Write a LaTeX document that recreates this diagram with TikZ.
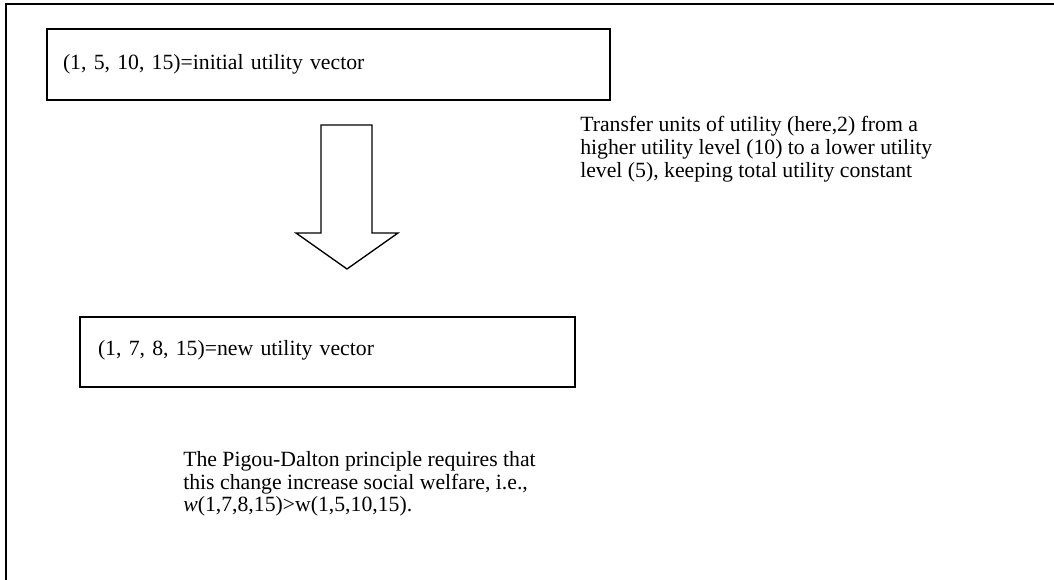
\documentclass[tikz,border=0pt]{standalone}
\usepackage{fontspec}
\setmainfont{Liberation Serif}
\begin{document}
\begin{tikzpicture}[x=0.75pt,y=-0.75pt,
  every node/.style={font=\fontsize{16.3pt}{17.1pt}\selectfont},
  box/.style={draw, line width=1.5pt, align=left, inner ysep=0pt},
  plain/.style={inner sep=0pt, align=left, anchor=north west},
  blockarrow/.style={draw, line width=1pt, line join=miter}]
\useasboundingbox (0,0) rectangle (1054,580);
% outer frame (only top and left edges visible)
\draw[line width=1.5pt] (1054,4) -- (6,4) -- (6,580);
% boxes
\node[box, minimum width=422.25pt, minimum height=53.25pt, text width=398.25pt, inner xsep=12pt] (init) at (328.5,64.5) {\raisebox{1pt}{(1, 5, 10, 15)=initial utility vector}};
\node[box, minimum width=371.25pt, minimum height=52.5pt, text width=344.25pt, inner xsep=13.5pt] (new) at (327.5,352) {\raisebox{6pt}{(1, 7, 8, 15)=new utility vector}};
% block arrow
\coordinate (atop) at (346.5,125);
\coordinate (atip) at (347,269);
\draw[blockarrow] (321,125) -- (372,125) -- (372,233) -- (398,233) -- (atip) -- (296,233) -- (321,233) -- cycle;
% texts
\node[plain] (transfer) at (580,116) {Transfer units of utility (here,2) from a\\higher utility level (10) to a lower utility\\level (5), keeping total utility constant};
\node[plain] (pigou) at (183,451) {The Pigou-Dalton principle requires that\\this change increase social welfare, i.e.,\\\textit{w}(1,7,8,15)>w(1,5,10,15).};
\end{tikzpicture}
\end{document}
